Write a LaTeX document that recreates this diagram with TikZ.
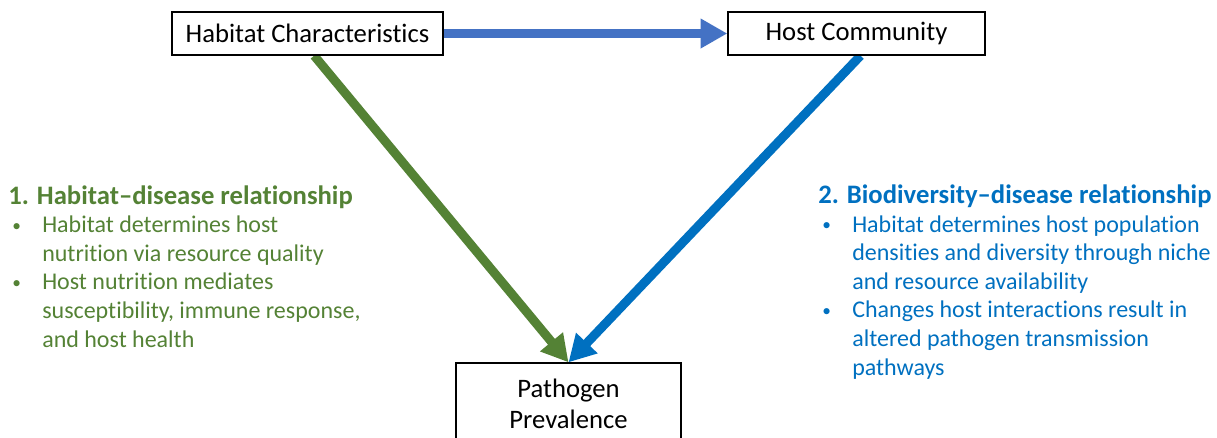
\documentclass[tikz,border=0pt]{standalone}
\usepackage{fontspec}
\setmainfont{Carlito}[Ligatures=NoCommon]
\usetikzlibrary{arrows.meta,positioning,backgrounds}

\definecolor{grn}{HTML}{548235}
\definecolor{blu}{HTML}{0070C0}
\definecolor{lblu}{HTML}{4472C4}

\newcommand{\bul}{\hspace*{3pt}\makebox[22.5pt][l]{\raisebox{1.2pt}{\fontsize{13}{13}\selectfont\textbullet}}}
\newcommand{\ind}{\hspace*{25.5pt}}
\newcommand{\ttl}[1]{{\fontsize{20}{22.5}\selectfont\bfseries #1}}

\tikzset{
  box/.style={draw,fill=white,line width=1pt,inner sep=0pt,align=center,
    font=\fontsize{20}{23.25}\selectfont},
  arr/.style={line width=6.75pt,-{Triangle[length=20pt,width=21pt]}},
  txt/.style={align=left,inner sep=0pt,anchor=base west,
    font=\fontsize{18}{21.45}\selectfont}
}

\begin{document}
\begin{tikzpicture}[x=0.75pt,y=-0.75pt]
\useasboundingbox (0,0) rectangle (1217,437);
\clip (0,0) rectangle (1217,437);

\node[box,minimum width=203.25pt,minimum height=32.25pt] (hab) at (307.5,33.5) {Habitat Characteristics};
\node[box,minimum width=192.75pt,minimum height=32.25pt] (host) at (856.5,33.5) {Host Community};
\node[box,minimum width=168.75pt,minimum height=61.5pt] (patho) at (568.5,404) {Pathogen\\Prevalence};

\begin{scope}[on background layer]
\draw[arr,lblu] (hab.east) -- (host.west);
\draw[arr,grn] ([xshift=5pt]hab.south) -- (patho.north);
\draw[arr,blu] ([xshift=3pt]host.south) -- (patho.north);
\end{scope}

% base anchor sits on the last line
\node[txt,grn] (habtxt) at (8,347) {\ttl{1. Habitat–disease relationship}\\
\bul Habitat determines host\\
\ind nutrition via resource quality\\
\bul Host nutrition mediates\\
\ind susceptibility, immune response,\\
\ind and host health};

\node[txt,blu] (biotxt) at (818,375) {\ttl{2. Biodiversity–disease relationship}\\
\bul Habitat determines host population\\
\ind densities and diversity through niche\\
\ind and resource availability\\
\bul Changes host interactions result in\\
\ind altered pathogen transmission\\
\ind pathways};

\end{tikzpicture}
\end{document}
